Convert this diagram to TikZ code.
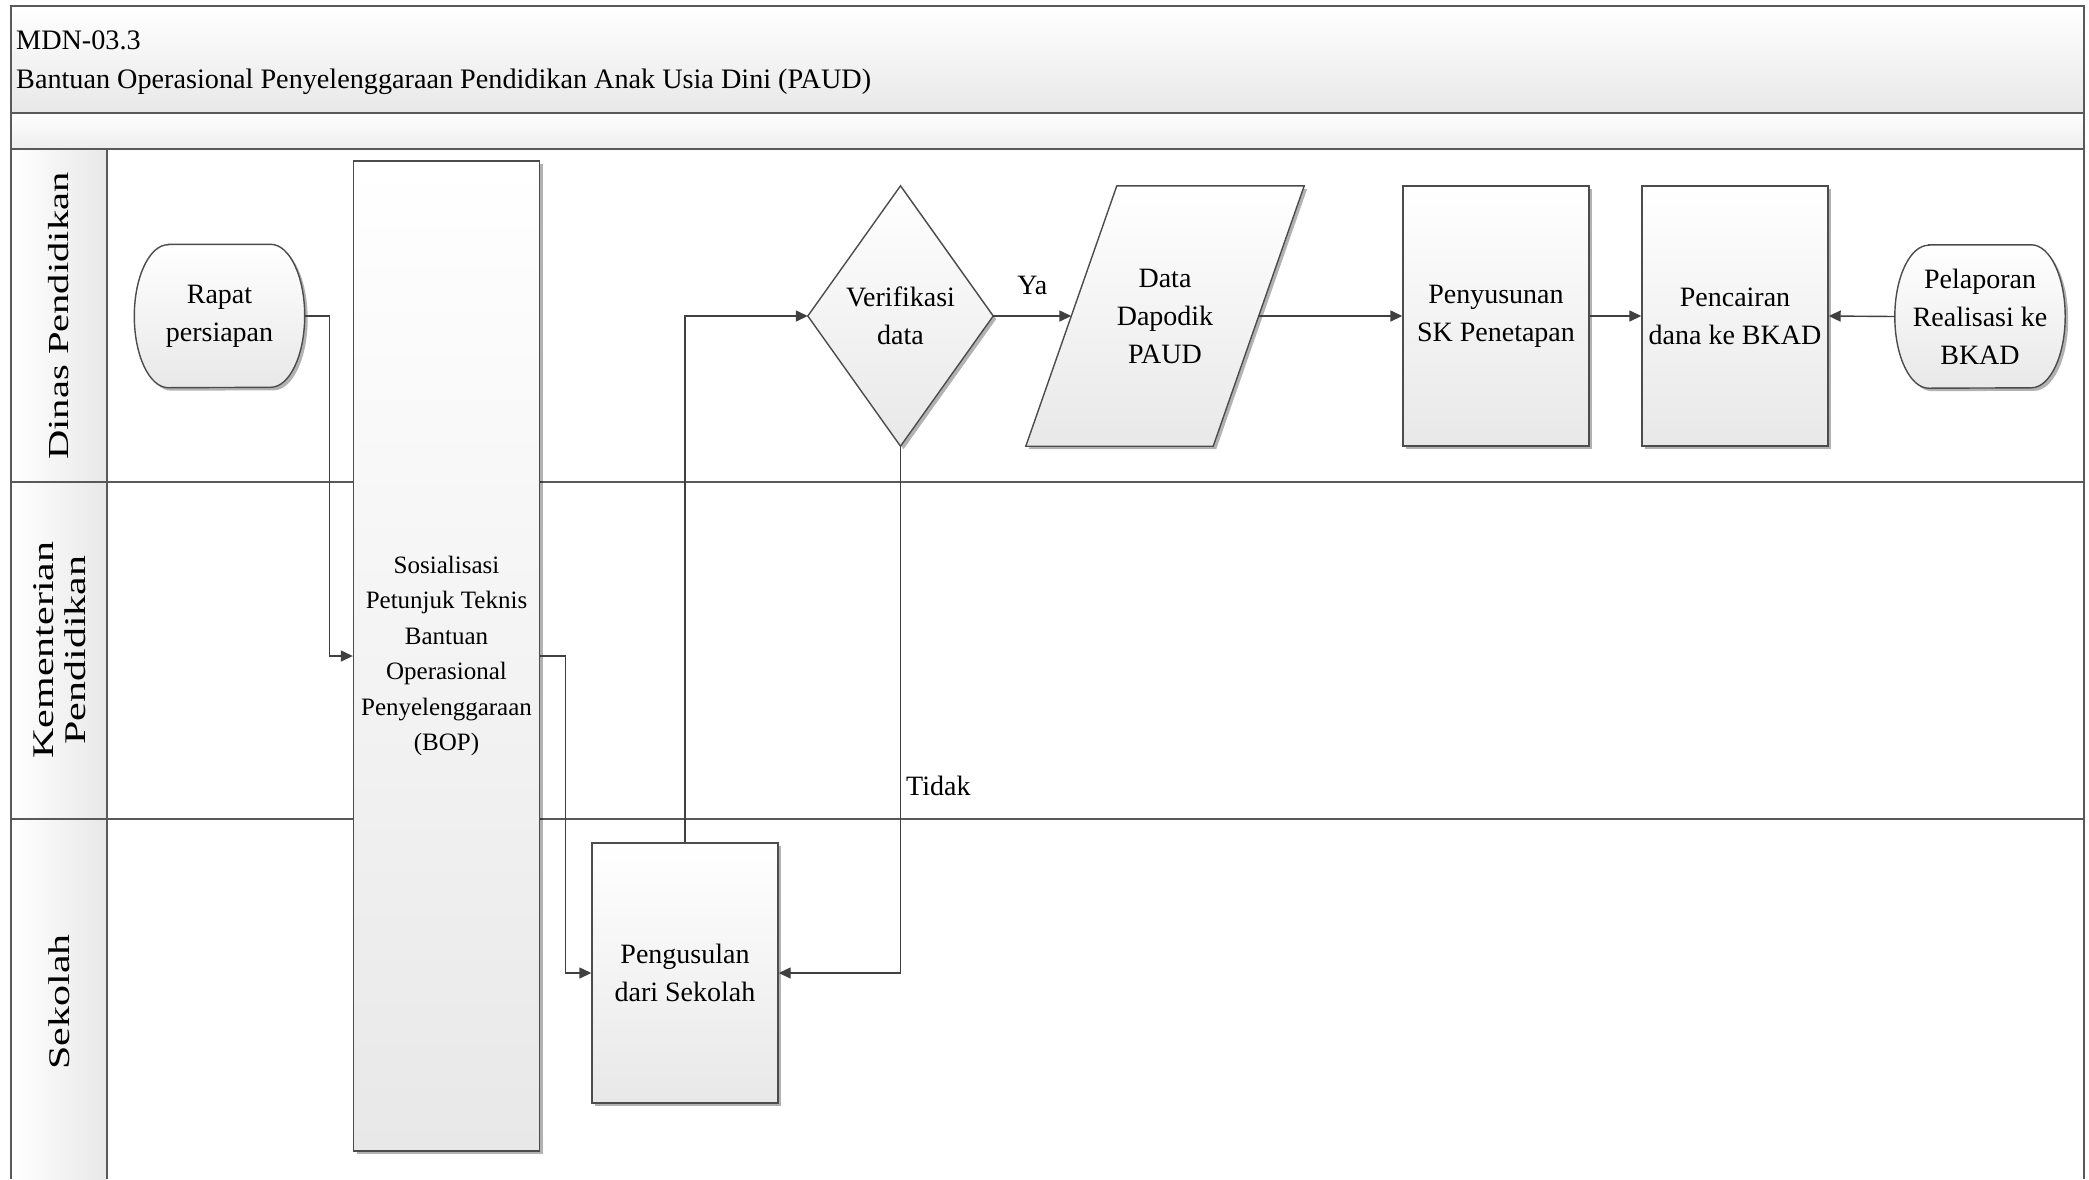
\documentclass[tikz,border=0pt]{standalone}
\usepackage{fontspec}
\setmainfont{Liberation Serif}
\newfontfamily\lanefont[FakeStretch=1.4]{Liberation Serif}
\usetikzlibrary{arrows.meta,shadows,calc,backgrounds}
\begin{document}
\begin{tikzpicture}[x=1pt,y=1pt,
  lane/.style={draw=black!65, line width=2pt},
  conn/.style={draw=black!75, line width=1.4pt, -{Triangle[length=12pt,width=11pt]}},
  grad/.style={top color=white, bottom color=black!9},
  nshadow/.style={drop shadow={shadow xshift=3pt,shadow yshift=-3pt,opacity=0.3,fill=black}},
  box/.style={rectangle, draw=black!70, line width=1.4pt, grad, nshadow, minimum width=186pt, minimum height=260pt, inner sep=0pt, align=center, font=\fontsize{28}{38}\selectfont},
  ghost/.style={rectangle, draw=none, inner sep=0pt, align=center, font=\fontsize{28}{38}\selectfont},
  outl/.style={draw=black!70, line width=1.4pt, grad, nshadow},
  lanelbl/.style={rotate=90, inner sep=0pt, font=\lanefont\fontsize{30}{32}\selectfont, align=center},
  lbl/.style={inner sep=0pt, font=\fontsize{28}{34}\selectfont},
  ttl/.style={anchor=base west, inner sep=0pt, font=\fontsize{28.2}{35}\selectfont}
]
\begin{scope}[on background layer]
  \fill[white] (0,0) rectangle (2089,-1179);
\end{scope}
\useasboundingbox (0,0) rectangle (2089,-1179);

% frame and bands
\path[top color=white, bottom color=black!9] (11,-6) rectangle (2084,-113);
\path[top color=white, bottom color=black!7] (11,-113) rectangle (2084,-149);
\path[left color=white, right color=black!9] (11,-149) rectangle (107,-1179);
\draw[lane] (11,-1179) -- (11,-6) -- (2084,-6) -- (2084,-1179);
\draw[lane] (11,-113) -- (2084,-113);
\draw[lane] (11,-149) -- (2084,-149);
\draw[lane] (11,-482) -- (2084,-482);
\draw[lane] (11,-819) -- (2084,-819);
\draw[lane] (107,-149) -- (107,-1179);

% title
\node[ttl] (code) at (16,-49) {MDN-03.3};
\node[ttl] (title) at (16,-88) {Bantuan Operasional Penyelenggaraan Pendidikan Anak Usia Dini (PAUD)};

% lane labels
\node[lanelbl, font=\lanefont\fontsize{29}{32}\selectfont] (lane1) at (59,-316) {Dinas Pendidikan};
\node[lanelbl] (lane2) at (60,-650) {Kementerian\\Pendidikan};
\node[lanelbl] (lane3) at (59,-1002) {Sekolah};

% nodes
\node[ghost, minimum width=170pt, minimum height=143pt] (rapat) at (219.5,-316) {Rapat\\persiapan};
\node[box, minimum height=990pt, font=\fontsize{25}{35.5}\selectfont] (bop) at (446.5,-656) {Sosialisasi\\Petunjuk Teknis\\Bantuan\\Operasional\\Penyelenggaraan\\(BOP)};
\node[box] (usul) at (685,-973) {Pengusulan\\dari Sekolah};
\node[ghost, minimum width=185pt, minimum height=260pt] (verif) at (900.5,-316) {Verifikasi\\data};
\node[ghost, minimum width=187pt, minimum height=260pt] (dapo) at (1165,-316) {Data\\Dapodik\\PAUD};
\node[box] (sk) at (1496,-316) {Penyusunan\\SK Penetapan};
\node[box] (cair) at (1735,-316) {Pencairan\\dana ke BKAD};
\node[ghost, minimum width=170pt, minimum height=143pt] (lapor) at (1980,-316.5) {Pelaporan\\Realisasi ke\\BKAD};

% outlines of non-rectangular shapes
\begin{scope}[on background layer]
  \path[outl] ($(rapat.north west)+(34,0)$) -- ($(rapat.north east)+(-34,0)$)
     arc[start angle=90,end angle=-90,x radius=34pt,y radius=71.5pt]
     -- ($(rapat.south west)+(34,0)$)
     arc[start angle=270,end angle=90,x radius=34pt,y radius=71.5pt] -- cycle;
  \path[outl] ($(lapor.north west)+(34,0)$) -- ($(lapor.north east)+(-34,0)$)
     arc[start angle=90,end angle=-90,x radius=34pt,y radius=71.5pt]
     -- ($(lapor.south west)+(34,0)$)
     arc[start angle=270,end angle=90,x radius=34pt,y radius=71.5pt] -- cycle;
  \path[outl] (verif.north) -- (verif.east) -- (verif.south) -- (verif.west) -- cycle;
  \path[outl] ($(dapo.north west)+(45.5,0)$) -- ($(dapo.north east)+(45.5,0)$)
     -- ($(dapo.south east)+(-45.5,0)$) -- ($(dapo.south west)+(-45.5,0)$) -- cycle;
\end{scope}

% connectors
\draw[conn] (rapat.east) -- ++(25,0) |- (bop.west);
\draw[conn] (bop.east) -- ++(25,0) |- (usul.west);
\draw[conn] (usul.north) |- (verif.west);
\draw[conn] (verif.east) -- (dapo.west) node[lbl, pos=0.5, yshift=31pt] (ya) {Ya};
\draw[conn] (verif.south) |- (usul.east);
\node[lbl, anchor=west] (tidak) at (906,-786) {Tidak};
\draw[conn] (dapo.east) -- (sk.west);
\draw[conn] (sk.east) -- (cair.west);
\draw[conn] (lapor.west) -- (cair.east);
\end{tikzpicture}
\end{document}
